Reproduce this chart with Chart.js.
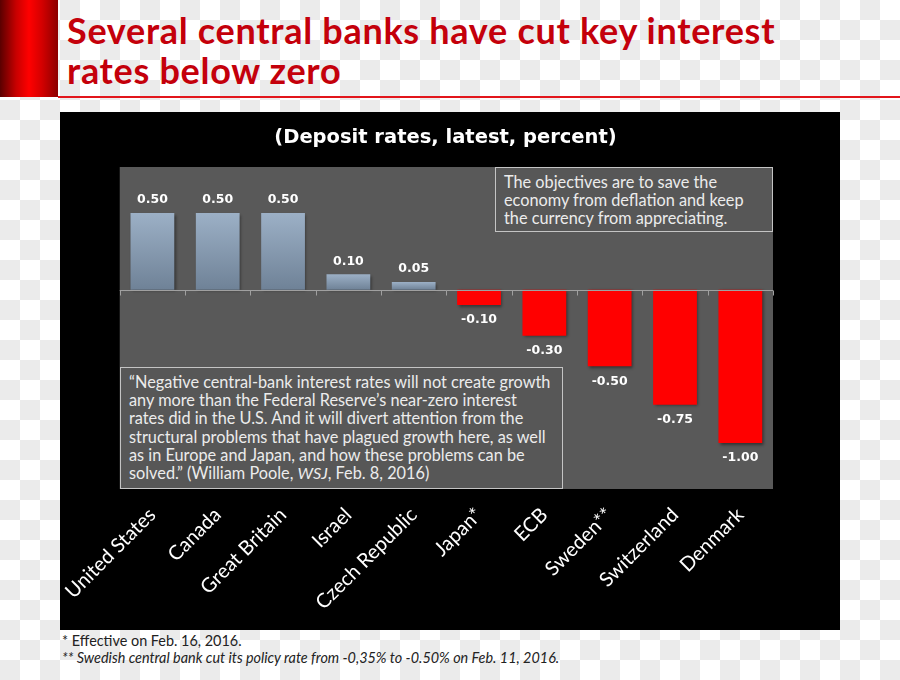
<!DOCTYPE html>
<html>
<head>
<meta charset="utf-8">
<title>Several central banks have cut key interest rates below zero</title>
<script src="https://cdn.jsdelivr.net/npm/chart.js@4.4.1/dist/chart.umd.min.js"></script>
<style>
  html, body { margin: 0; padding: 0; }
  body {
    width: 900px; height: 680px; position: relative; overflow: hidden;
    background: repeating-conic-gradient(#ebebeb 0 25%, #ffffff 0 50%) 0 0 / 40px 40px;
    font-family: Lato, "Open Sans", sans-serif;
  }
  .red-block {
    position: absolute; left: 0; top: 0; width: 58px; height: 97px;
    background: linear-gradient(to right, #5a0000 0%, #c80000 28%, #ff0000 50%, #d40000 72%, #8c0000 100%);
  }
  .red-rule { position: absolute; left: 58px; top: 96px; width: 842px; height: 2px; background: #e2151b; }
  h1 {
    position: absolute; left: 67px; top: 10px; margin: 0;
    font: bold 36px/40px Lato, sans-serif; letter-spacing: 0.7px; color: #c4000b; white-space: nowrap;
  }
  .panel { position: absolute; left: 60px; top: 112px; width: 780px; height: 518px; background: #000; }
  .panel canvas { position: absolute; left: 0; top: 0; }
  .note {
    position: absolute; box-sizing: border-box; border: 1.5px solid #c4c4c4; background: #575757;
    color: #ececec; font-size: 16.3px; line-height: 18.2px; white-space: nowrap;
  }
  .note-a { left: 495px; top: 167px; width: 278px; height: 65px; padding: 5px 0 0 8px; }
  .note-b { left: 120px; top: 367px; width: 443px; height: 122px; padding: 5px 0 0 8px; }
  .foot {
    position: absolute; left: 62px; top: 632px; font-size: 14.4px; line-height: 17px; color: #222;
    white-space: nowrap;
  }
</style>
</head>
<body>
<div class="red-block"></div>
<div class="red-rule"></div>
<h1>Several central banks have cut key interest<br>rates below zero</h1>

<div class="panel"><canvas id="rates-chart" width="780" height="518"></canvas></div>

<div class="note note-a">The objectives are to save the<br>economy from deflation and keep<br>the currency from appreciating.</div>
<div class="note note-b">“Negative central-bank interest rates will not create growth<br>any more than the Federal Reserve’s near-zero interest<br>rates did in the U.S. And it will divert attention from the<br>structural problems that have plagued growth here, as well<br>as in Europe and Japan, and how these problems can be<br>solved.” (William Poole, <i>WSJ</i>, Feb. 8, 2016)</div>

<div class="foot">* Effective on Feb. 16, 2016.<br><i>** Swedish central bank cut its policy rate from -0,35% to -0.50% on Feb. 11, 2016.</i></div>

<script>
// Chart data
const countries = ['United States', 'Canada', 'Great Britain', 'Israel', 'Czech Republic',
  'Japan*', 'ECB', 'Sweden**', 'Switzerland', 'Denmark'];
const depositRates = [0.50, 0.50, 0.50, 0.10, 0.05, -0.10, -0.30, -0.50, -0.75, -1.00];
const yMin = -1.3;
const yMax = 0.8;

// grey plot area behind the bars
const plotBackground = {
  id: 'plotBackground',
  beforeDraw(chart) {
    const { ctx, chartArea: a } = chart;
    ctx.save();
    ctx.fillStyle = '#595959';
    ctx.fillRect(a.left, a.top, a.right - a.left, a.bottom - a.top);
    ctx.restore();
  }
};

// soft shadow under the bars
const barShadow = {
  id: 'barShadow',
  beforeDatasetDraw(chart) {
    const ctx = chart.ctx;
    ctx.save();
    ctx.shadowColor = 'rgba(0, 0, 0, 0.45)';
    ctx.shadowBlur = 3;
    ctx.shadowOffsetX = 1.5;
    ctx.shadowOffsetY = 1.5;
  },
  afterDatasetDraw(chart) {
    chart.ctx.restore();
  }
};

// zero line with small tick marks between categories
const zeroAxis = {
  id: 'zeroAxis',
  afterDatasetsDraw(chart) {
    const { ctx, chartArea: a, scales: { x, y } } = chart;
    const y0 = Math.round(y.getPixelForValue(0)) + 0.5;
    ctx.save();
    ctx.strokeStyle = '#a0a0a0';
    ctx.lineWidth = 1;
    ctx.beginPath();
    ctx.moveTo(a.left, y0);
    ctx.lineTo(a.right, y0);
    for (let i = 0; i <= countries.length; i++) {
      const xb = Math.round(x.getPixelForValue(i - 0.5)) + 0.5;
      ctx.moveTo(xb, y0);
      ctx.lineTo(xb, y0 + 5);
    }
    ctx.stroke();
    ctx.restore();
  }
};

// value labels above / below each bar
const barValues = {
  id: 'barValues',
  afterDatasetsDraw(chart) {
    const ctx = chart.ctx;
    const meta = chart.getDatasetMeta(0);
    ctx.save();
    ctx.fillStyle = '#ffffff';
    ctx.font = 'bold 12.5px "DejaVu Sans"';
    ctx.textAlign = 'center';
    ctx.textBaseline = 'middle';
    meta.data.forEach((bar, i) => {
      const v = depositRates[i];
      const ty = v >= 0 ? bar.y - 13 : bar.y + 15;
      ctx.fillText(v.toFixed(2), bar.x, ty);
    });
    ctx.restore();
  }
};

function barColor(context) {
  const v = context.raw;
  if (v < 0) return '#ff0000';
  const chart = context.chart;
  const yScale = chart.scales.y;
  if (!chart.chartArea || !yScale) return '#8a9db2';
  const top = yScale.getPixelForValue(v);
  const bottom = yScale.getPixelForValue(0);
  const g = chart.ctx.createLinearGradient(0, top, 0, bottom);
  g.addColorStop(0, '#9cb0c6');
  g.addColorStop(1, '#6f8297');
  return g;
}

const ctx = document.getElementById('rates-chart');
ctx.chart = new Chart(ctx, {
  type: 'bar',
  data: {
    labels: countries,
    datasets: [{
      data: depositRates,
      backgroundColor: barColor,
      borderWidth: 0,
      barPercentage: 0.67,
      categoryPercentage: 1
    }]
  },
  options: {
    responsive: false,
    animation: false,
    devicePixelRatio: 1,
    layout: { padding: { left: 58, right: 67, top: 0, bottom: 0 } },
    plugins: {
      legend: { display: false },
      tooltip: { enabled: false },
      title: {
        display: true,
        text: '(Deposit rates, latest, percent)',
        color: '#ffffff',
        font: { family: 'DejaVu Sans', weight: 'bold', size: 19.5, lineHeight: 1.2 },
        padding: { top: 14, bottom: 17.6 }
      }
    },
    scales: {
      x: {
        grid: { display: false },
        border: { display: false },
        ticks: {
          color: '#ffffff',
          font: { family: 'Lato', size: 20 },
          maxRotation: 45,
          minRotation: 45,
          autoSkip: false,
          padding: 6
        },
        afterFit(scale) {
          scale.height = 141;
        }
      },
      y: {
        display: false,
        min: yMin,
        max: yMax
      }
    }
  },
  plugins: [plotBackground, barShadow, zeroAxis, barValues]
});
</script>
</body>
</html>
